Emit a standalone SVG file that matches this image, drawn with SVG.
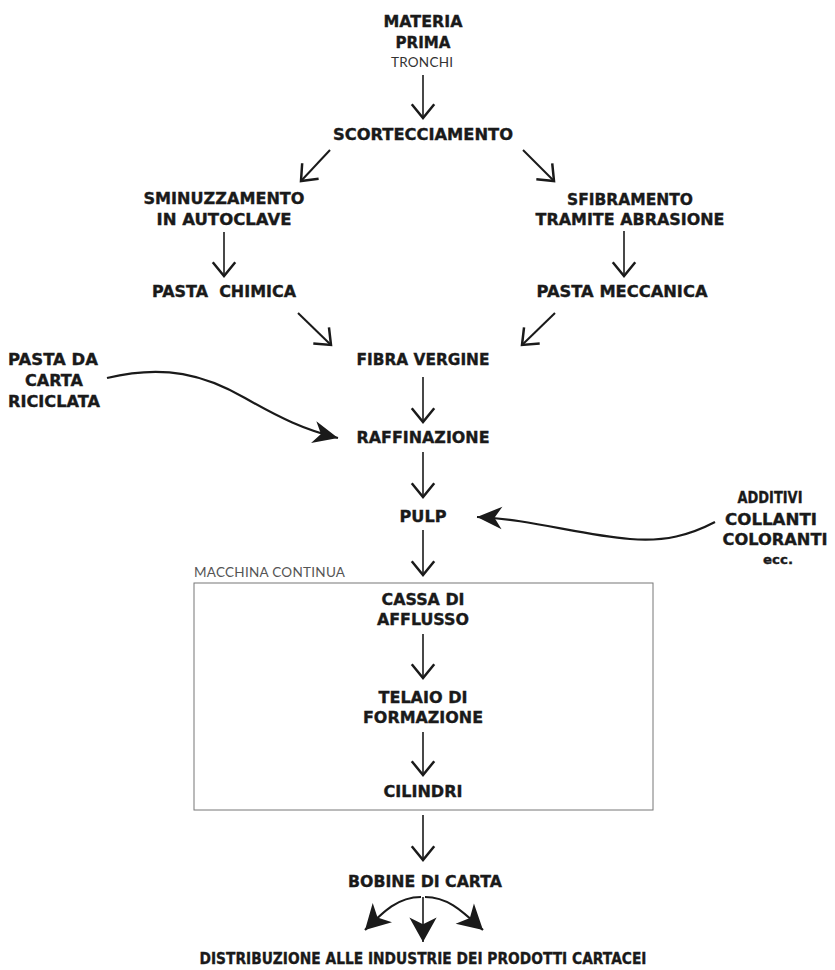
<svg xmlns="http://www.w3.org/2000/svg" width="835" height="970" viewBox="0 0 835 970">
<defs>
<style>
text{font-family:"Lato","Liberation Sans",sans-serif;fill:#1a1a1a;text-anchor:middle}
.b{font-family:"DejaVu Sans","Liberation Sans",sans-serif;font-weight:700;font-size:15px;stroke:#1a1a1a;stroke-width:0.35}
.s{font-weight:400;font-size:13.5px;fill:#333}
.ln{fill:none;stroke:#1a1a1a;stroke-width:1.6}
.dg{fill:none;stroke:#1a1a1a;stroke-width:2}
.cv{fill:none;stroke:#1a1a1a;stroke-width:2.2}
</style>
<marker id="open" markerUnits="userSpaceOnUse" markerWidth="30" markerHeight="30" viewBox="-15 -12 18 24" refX="0" refY="0" orient="auto" overflow="visible">
<path d="M-11,-9 L0,0 L-11,9" fill="none" stroke="#1a1a1a" stroke-width="2" stroke-linejoin="miter"/>
</marker>
<marker id="fill" markerUnits="userSpaceOnUse" markerWidth="30" markerHeight="30" viewBox="-22 -12 24 24" refX="0" refY="0" orient="auto" overflow="visible">
<path d="M0,0 L-20,-9 L-14,0 L-20,9 Z" fill="#1a1a1a"/>
</marker>
<marker id="fillS" markerUnits="userSpaceOnUse" markerWidth="30" markerHeight="30" viewBox="-20 -11 22 22" refX="0" refY="0" orient="auto" overflow="visible">
<path d="M0,0 L-18,-10 L-13,0 L-18,10 Z" fill="#1a1a1a"/>
</marker>
</defs>
<g id="connectors">
<line class="ln" x1="423" y1="75" x2="423" y2="118" marker-end="url(#open)"/>
<line class="dg" x1="330" y1="150" x2="301" y2="181" marker-end="url(#open)"/>
<line class="dg" x1="523" y1="150" x2="554" y2="181" marker-end="url(#open)"/>
<line class="ln" x1="224" y1="232" x2="224" y2="276" marker-end="url(#open)"/>
<line class="ln" x1="624" y1="231" x2="624" y2="276" marker-end="url(#open)"/>
<line class="dg" x1="298" y1="313" x2="331" y2="345" marker-end="url(#open)"/>
<line class="dg" x1="555" y1="313" x2="522" y2="345" marker-end="url(#open)"/>
<line class="ln" x1="423" y1="377" x2="423" y2="422" marker-end="url(#open)"/>
<path class="cv" d="M107,378 C165,364 205,375 245,398 C280,418 305,430 338,438" marker-end="url(#fill)"/>
<line class="ln" x1="423" y1="452" x2="423" y2="497" marker-end="url(#open)"/>
<path class="cv" d="M715,522 C690,535 665,542 630,539 C580,535 530,519 477,517" marker-end="url(#fill)"/>
<line class="ln" x1="423" y1="530" x2="423" y2="575" marker-end="url(#open)"/>
<line class="ln" x1="423" y1="634" x2="423" y2="678" marker-end="url(#open)"/>
<line class="ln" x1="423" y1="732" x2="423" y2="775" marker-end="url(#open)"/>
<line class="ln" x1="423" y1="815" x2="423" y2="860" marker-end="url(#open)"/>
<line class="ln" x1="423" y1="897" x2="423" y2="942" marker-end="url(#fillS)"/>
<path class="cv" d="M421,897 C398,897 384,911 365,930" marker-end="url(#fillS)"/>
<path class="cv" d="M425,897 C448,897 462,911 483,930" marker-end="url(#fillS)"/>
</g>
<g id="materia-prima">
<text class="b" x="423" y="27" textLength="79" lengthAdjust="spacingAndGlyphs">MATERIA</text>
<text class="b" x="423" y="48" textLength="55" lengthAdjust="spacingAndGlyphs">PRIMA</text>
<text class="s" x="422" y="67" textLength="62" lengthAdjust="spacing">TRONCHI</text>
</g>
<g id="scortecciamento"><text class="b" x="423" y="140" textLength="180" lengthAdjust="spacingAndGlyphs">SCORTECCIAMENTO</text></g>
<g id="sminuzzamento">
<text class="b" x="224" y="204" textLength="161" lengthAdjust="spacingAndGlyphs">SMINUZZAMENTO</text>
<text class="b" x="224" y="225" textLength="135" lengthAdjust="spacingAndGlyphs">IN AUTOCLAVE</text>
</g>
<g id="sfibramento">
<text class="b" x="630" y="205" textLength="126" lengthAdjust="spacingAndGlyphs">SFIBRAMENTO</text>
<text class="b" x="630" y="225" textLength="189" lengthAdjust="spacingAndGlyphs">TRAMITE ABRASIONE</text>
</g>
<g id="pasta-chimica"><text class="b" x="224" y="297" textLength="144" lengthAdjust="spacingAndGlyphs" xml:space="preserve">PASTA  CHIMICA</text></g>
<g id="pasta-meccanica"><text class="b" x="622" y="297" textLength="171" lengthAdjust="spacingAndGlyphs">PASTA MECCANICA</text></g>
<g id="fibra-vergine"><text class="b" x="423" y="365" textLength="133" lengthAdjust="spacingAndGlyphs">FIBRA VERGINE</text></g>
<g id="pasta-riciclata">
<text class="b" x="53" y="365" textLength="90" lengthAdjust="spacingAndGlyphs">PASTA DA</text>
<text class="b" x="54" y="386" textLength="58" lengthAdjust="spacingAndGlyphs">CARTA</text>
<text class="b" x="54" y="407" textLength="92" lengthAdjust="spacingAndGlyphs">RICICLATA</text>
</g>
<g id="raffinazione"><text class="b" x="423" y="443" textLength="133" lengthAdjust="spacingAndGlyphs">RAFFINAZIONE</text></g>
<g id="pulp"><text class="b" x="423" y="522" textLength="47" lengthAdjust="spacingAndGlyphs">PULP</text></g>
<g id="additivi">
<text class="b" x="770" y="503" textLength="65" lengthAdjust="spacingAndGlyphs">ADDITIVI</text>
<text class="b" x="771" y="525" textLength="92" lengthAdjust="spacingAndGlyphs">COLLANTI</text>
<text class="b" x="775" y="545" textLength="105" lengthAdjust="spacingAndGlyphs">COLORANTI</text>
<text class="b" x="778" y="564" style="font-size:13px" textLength="30" lengthAdjust="spacingAndGlyphs">ecc.</text>
</g>
<g id="macchina-continua">
<rect x="194" y="583" width="459" height="227" fill="none" stroke="#777" stroke-width="1"/>
<text class="s" x="194" y="577" style="text-anchor:start;fill:#555" textLength="151" lengthAdjust="spacing">MACCHINA CONTINUA</text>
</g>
<g id="cassa">
<text class="b" x="423" y="605" textLength="83" lengthAdjust="spacingAndGlyphs">CASSA DI</text>
<text class="b" x="423" y="625" textLength="92" lengthAdjust="spacingAndGlyphs">AFFLUSSO</text>
</g>
<g id="telaio">
<text class="b" x="423" y="703" textLength="89" lengthAdjust="spacingAndGlyphs">TELAIO DI</text>
<text class="b" x="423" y="723" textLength="120" lengthAdjust="spacingAndGlyphs">FORMAZIONE</text>
</g>
<g id="cilindri"><text class="b" x="423" y="797" textLength="79" lengthAdjust="spacingAndGlyphs">CILINDRI</text></g>
<g id="bobine"><text class="b" x="425" y="887" textLength="154" lengthAdjust="spacingAndGlyphs">BOBINE DI CARTA</text></g>
<g id="distribuzione"><text class="b" x="423" y="964" textLength="447" lengthAdjust="spacingAndGlyphs">DISTRIBUZIONE ALLE INDUSTRIE DEI PRODOTTI CARTACEI</text></g>
</svg>
